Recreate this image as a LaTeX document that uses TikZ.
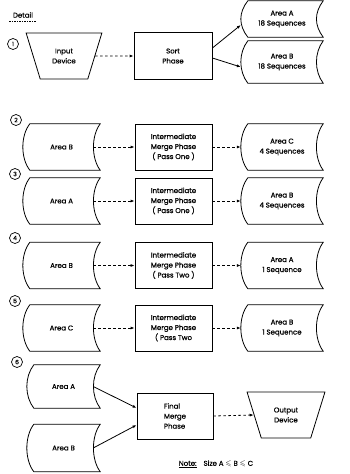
\documentclass[tikz,border=0pt]{standalone}
\usepackage{fontspec}
\usepackage{amssymb}
\setmainfont{Poppins}[FakeBold=0.6]
\usetikzlibrary{shapes.geometric,arrows.meta}
\newcommand\stor[1]{\draw[ln] ([xshift=7pt]#1.north west) -- (#1.north east)
  .. controls ([xshift=-9pt,yshift=-12pt]#1.north east) and ([xshift=-9pt,yshift=12pt]#1.south east) .. (#1.south east)
  -- ([xshift=7pt]#1.south west)
  .. controls ([xshift=-2.3pt,yshift=12pt]#1.south west) and ([xshift=-2.3pt,yshift=-12pt]#1.north west) .. ([xshift=7pt]#1.north west) -- cycle;}
\begin{document}
\begin{tikzpicture}[x=1pt,y=-1pt,
  font=\fontsize{7}{10}\selectfont,
  ln/.style={line width=0.8pt},
  proc/.style={draw, ln, minimum width=77pt, minimum height=46pt, inner sep=0pt, align=center},
  store/.style={inner sep=0pt, minimum height=46pt, align=center},
  lstore/.style={store, minimum width=77pt},
  rstore/.style={store, minimum width=82pt},
  dev/.style={draw, ln, trapezium, shape border rotate=180, trapezium stretches=true, trapezium angle=65, minimum width=76pt, minimum height=46pt, inner sep=0pt, align=center},
  num/.style={draw, circle, line width=0.7pt, inner sep=0pt, minimum size=11pt, font=\fontsize{6}{6}\selectfont},
  dflow/.style={ln, dash pattern=on 2.5pt off 2.5pt, -{Latex[length=4pt,width=3pt]}},
  sflow/.style={ln, -{Latex[length=4pt,width=3pt]}},
]
\useasboundingbox (0,0) rectangle (349,474);

% header
\node (det) at (23,15) {Detail};
\draw[line width=0.4pt, dash pattern=on 1.5pt off 1pt] (det.south west) -- (det.south east);

% row 1
\node[num] (c1) at (13,44) {1};
\node[dev] (in) at (64,56) {Input\\Device};
\node[proc, minimum width=78pt, minimum height=47pt] (sort) at (173,56) {Sort\\Phase};
\node[rstore, minimum height=36pt] (a1) at (282,19) {Area A\\18 Sequences};
\node[rstore, minimum height=42pt] (b1) at (282,62) {Area B\\18 Sequences};
\stor{a1}\stor{b1}
\draw[dflow] (in.east) -- (sort.west);
\draw[sflow] ([yshift=8pt]sort.east) -- ([yshift=-6pt]a1.west);
\draw[sflow] ([yshift=-2pt]sort.east) -- ([yshift=-5pt]b1.west);

% row 2
\node[num] (c2) at (16,120) {2};
\node[lstore] (l2) at (61.5,147) {Area B};
\node[proc] (p2) at (173.5,147) {Intermediate\\Merge Phase\\( Pass One )};
\node[rstore] (r2) at (282,147) {Area C\\4 Sequences};
\stor{l2}\stor{r2}
\draw[dflow] ([xshift=-7pt]l2.east) -- (p2.west);
\draw[dflow] (p2.east) -- (r2.west);

% row 3
\node[num] (c3) at (15,174) {3};
\node[lstore] (l3) at (61.5,201) {Area A};
\node[proc] (p3) at (173.5,201) {Intermediate\\Merge Phase\\( Pass One )};
\node[rstore] (r3) at (282,201) {Area B\\4 Sequences};
\stor{l3}\stor{r3}
\draw[dflow] ([xshift=-7pt]l3.east) -- (p3.west);
\draw[dflow] (p3.east) -- (r3.west);

% row 4
\node[num] (c4) at (15,238) {4};
\node[lstore] (l4) at (61.5,265.5) {Area B};
\node[proc] (p4) at (173.5,265.5) {Intermediate\\Merge Phase\\( Pass Two )};
\node[rstore] (r4) at (282,265.5) {Area A\\1 Sequence};
\stor{l4}\stor{r4}
\draw[dflow] ([xshift=-7pt]l4.east) -- (p4.west);
\draw[dflow] (p4.east) -- (r4.west);

% row 5
\node[num] (c5) at (15,301) {5};
\node[lstore] (l5) at (61.5,328) {Area C};
\node[proc] (p5) at (173.5,328) {Intermediate\\Merge Phase\\( Pass Two};
\node[rstore] (r5) at (282,328) {Area B\\1 Sequence};
\stor{l5}\stor{r5}
\draw[dflow] ([xshift=-7pt]l5.east) -- (p5.west);
\draw[dflow] (p5.east) -- (r5.west);

% row 6
\node[num] (c6) at (17,362) {6};
\node[store, minimum width=73pt, minimum height=43pt] (a6) at (63.5,386.5) {Area A};
\node[store, minimum width=73pt, minimum height=47pt] (b6) at (63.5,448) {Area B};
\stor{a6}\stor{b6}
\node[proc, minimum width=76pt, align=left] (fin) at (175,416) {Final\\Merge\\Phase};
\node[dev, minimum width=78pt] (out) at (286,415) {Output\\Device};
\draw[sflow] ([xshift=-7pt]a6.east) -- ([yshift=8pt]fin.west);
\draw[sflow] ([xshift=-7pt]b6.east) -- ([yshift=-9pt]fin.west);
\draw[dflow] (fin.east) -- (out.west);

% note
\node (note) at (216,464) {\underline{Note:}\quad Size A $\leqslant$ B $\leqslant$ C};
\end{tikzpicture}
\end{document}
